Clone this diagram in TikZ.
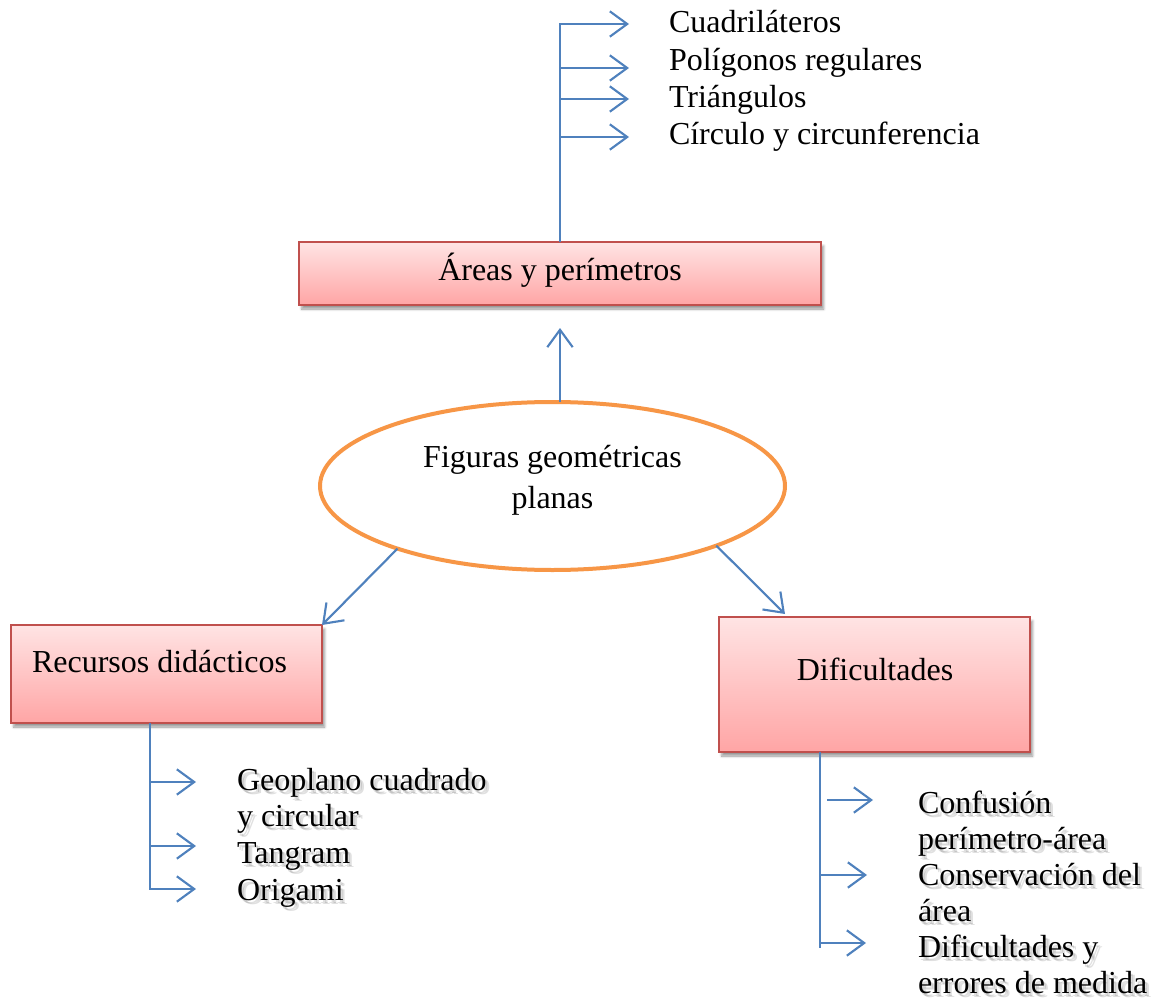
\documentclass[tikz,border=0pt]{standalone}
\usepackage{fontspec}
\setmainfont{Liberation Serif}
\usetikzlibrary{arrows.meta,shadows.blur,shapes.geometric}

\definecolor{linkblue}{HTML}{4F81BD}
\definecolor{boxred}{HTML}{C0504D}
\definecolor{ovalorange}{HTML}{F79646}
\definecolor{pinktop}{HTML}{FFE4E4}
\definecolor{pinkbot}{HTML}{FFA5A5}

% lines of a list, aligned on the baseline of the first line
\newcommand\stackleft[1]{\begin{tabular}[t]{@{}l@{}}#1\end{tabular}}
\newcommand\stackcenter[1]{\begin{tabular}[t]{@{}c@{}}#1\end{tabular}}

\newcommand\recursositems{Geoplano cuadrado\\ y circular\\ Tangram\\ Origami}
\newcommand\dificitems{Confusión\\ perímetro-área\\ Conservación del\\ área\\ Dificultades y\\ errores de medida}

\begin{document}
\begin{tikzpicture}[x=0.75pt,y=-0.75pt,
  every node/.style={inner sep=0pt, outer sep=0pt},
  txt/.style={font=\fontsize{24}{28}\selectfont},
  topic/.style={rectangle, draw=boxred, line width=1.5pt,
    top color=pinktop, bottom color=pinkbot,
    blur shadow={shadow xshift=2pt, shadow yshift=-3pt, shadow blur steps=6, shadow opacity=40}},
  oval/.style={ellipse, draw=ovalorange, line width=3pt, fill=white},
  link/.style={draw=linkblue, line width=1.6pt,
    -{Straight Barb[length=13pt,width=19pt,line width=1.6pt]}},
  branch/.style={draw=linkblue, line width=1.6pt},
  softshadow/.style={text=black, text opacity=0.12}
]
\useasboundingbox (0,0) rectangle (1157,1002);

% ---- central ellipse ----
\node[oval, minimum width=348.75pt, minimum height=126pt] (fig) at (552.5,486) {};
\node[txt, font=\fontsize{24}{30.75}\selectfont, anchor=base] (figT) at (552.5,467)
  {\stackcenter{Figuras geométricas\\ planas}};

% ---- topic boxes ----
\node[topic, minimum width=391.5pt, minimum height=47.25pt] (areas) at (560,273.5) {};
\node[txt, anchor=base] (areasT) at (560,281) {Áreas y perímetros};

\node[topic, minimum width=233.25pt, minimum height=73.5pt] (recursos) at (166.5,674) {};
\node[txt, anchor=base west] (recursosT) at (32,672) {Recursos didácticos};

\node[topic, minimum width=233.25pt, minimum height=101.25pt] (dific) at (874.5,684.5) {};
\node[txt, anchor=base] (dificT) at (875,680) {Dificultades};

% ---- connectors from the ellipse ----
\coordinate (upTip) at (560,328);
\draw[link] (fig.north -| upTip) -- (upTip);
\draw[link] (fig.202) -- (recursos.north east);
\coordinate (dTip) at (785,614);
\draw[link] (fig.340) -- (dTip);

% ---- list above "Áreas y perímetros" ----
\coordinate (t1) at (629,24);
\coordinate (t2) at (629,68);
\coordinate (t3) at (629,99);
\coordinate (t4) at (629,137);
\draw[link] (areas.north) |- (t1);
\foreach \t in {t2,t3,t4} \draw[link] (areas.north |- \t) -- (\t);
\node[txt, anchor=base west] (areasL) at (669,33)
  {\stackleft{Cuadriláteros\\ Polígonos regulares\\ Triángulos\\ Círculo y circunferencia}};

% ---- list below "Recursos didácticos" (text with a soft shadow) ----
\coordinate (r1) at (196,782);
\coordinate (r2) at (196,846);
\coordinate (r3) at (196,889);
\coordinate (rStem) at (150,0);
\draw[link] (recursos.south -| rStem) |- (r3);
\foreach \r in {r1,r2} \draw[link] (rStem |- \r) -- (\r);
\foreach \dx/\dy in {2/3,4/4}
  \node[txt, font=\fontsize{24}{27.5}\selectfont, softshadow, anchor=base west]
    at (237+\dx,790+\dy) {\stackleft{\recursositems}};
\node[txt, font=\fontsize{24}{27.5}\selectfont, anchor=base west] (recursosL) at (237,790)
  {\stackleft{\recursositems}};

% ---- list below "Dificultades" (text with a soft shadow) ----
\coordinate (dStem) at (820,948);
\draw[branch] (dific.south -| dStem) -- (dStem);
\coordinate (d1s) at (827,800);
\coordinate (d1) at (873,800);
\coordinate (d2) at (867,875);
\coordinate (d3) at (866,943);
\draw[link] (d1s) -- (d1);
\foreach \d in {d2,d3} \draw[link] (dStem |- \d) -- (\d);
\foreach \dx/\dy in {2/3,4/4}
  \node[txt, font=\fontsize{24}{27}\selectfont, softshadow, anchor=base west]
    at (918+\dx,813+\dy) {\stackleft{\dificitems}};
\node[txt, font=\fontsize{24}{27}\selectfont, anchor=base west] (dificL) at (918,813)
  {\stackleft{\dificitems}};
\end{tikzpicture}
\end{document}
